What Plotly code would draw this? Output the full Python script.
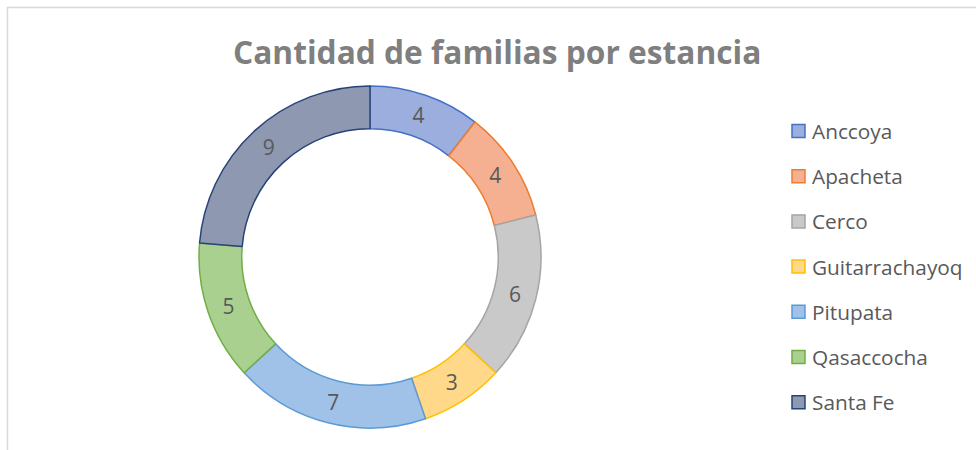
import plotly.graph_objects as go

W, H = 976, 450

labels = ["Anccoya", "Apacheta", "Cerco", "Guitarrachayoq", "Pitupata", "Qasaccocha", "Santa Fe"]
values = [4, 4, 6, 3, 7, 5, 9]
fill_colors = ["#9BAEDE", "#F5B091", "#C9C9C9", "#FFD88A", "#A0C1E8", "#A9D08F", "#8F98B1"]
line_colors = ["#4472C4", "#ED7D31", "#A5A5A5", "#FFC000", "#5B9BD5", "#70AD47", "#264478"]
title_text = "Cantidad de familias por estancia"

FONT = "Open Sans"

def px(x):
    return x / W

def py(y):
    return 1 - y / H

fig = go.Figure()
fig.add_trace(go.Pie(
    labels=labels,
    values=values,
    hole=0.75,
    sort=False,
    direction="clockwise",
    rotation=0,
    marker=dict(colors=fill_colors, line=dict(color=line_colors, width=1.5)),
    textinfo="value",
    textposition="inside",
    insidetextorientation="horizontal",
    textfont=dict(family=FONT, size=21, color="#595959"),
    showlegend=False,
    domain=dict(x=[px(199), px(541)], y=[py(428), py(86)]),
))

shapes = [
    dict(type="line", xref="paper", yref="paper", x0=px(7), x1=1, y0=py(7.5), y1=py(7.5),
         line=dict(color="#D9D9D9", width=1.5)),
    dict(type="line", xref="paper", yref="paper", x0=px(7.5), x1=px(7.5), y0=py(7), y1=0,
         line=dict(color="#D9D9D9", width=1.5)),
]
annotations = [
    dict(text="<b>" + title_text + "</b>", x=px(497), y=py(52), xref="paper", yref="paper",
         showarrow=False, xanchor="center", yanchor="middle",
         font=dict(family=FONT, size=31.7, color="#7F7F7F")),
]

# manual legend (Excel style spacing)
lx0, ly0, step, sq = 792, 131, 45.2, 13
for i, lab in enumerate(labels):
    cy = ly0 + i * step
    shapes.append(dict(type="rect", xref="paper", yref="paper",
                       x0=px(lx0), x1=px(lx0 + sq), y0=py(cy - sq / 2), y1=py(cy + sq / 2),
                       fillcolor=fill_colors[i], line=dict(color=line_colors[i], width=1.5)))
    annotations.append(dict(text=lab, x=px(lx0 + sq + 5), y=py(cy), xref="paper", yref="paper",
                            showarrow=False, xanchor="left", yanchor="middle",
                            font=dict(family=FONT, size=20.8, color="#595959")))

fig.update_layout(
    width=W, height=H,
    margin=dict(l=0, r=0, t=0, b=0),
    paper_bgcolor="white",
    plot_bgcolor="white",
    shapes=shapes,
    annotations=annotations,
)

fig.write_html("out.html", config={"displayModeBar": False},
               post_script="document.body.style.margin='0';")
